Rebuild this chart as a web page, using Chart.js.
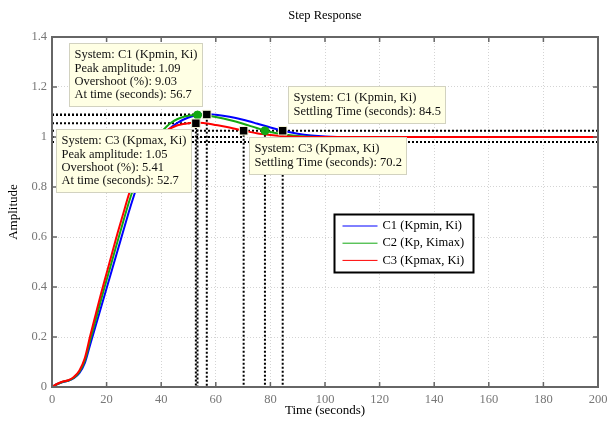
<!DOCTYPE html>
<html><head><meta charset="utf-8">
<script src="https://cdn.jsdelivr.net/npm/chart.js@4/dist/chart.umd.min.js"></script>
<style>html,body{margin:0;padding:0;background:#fff}#wrap{width:609px;height:423px}</style>
</head><body><div id="wrap"><canvas id="c" width="609" height="423"></canvas></div>
<script>
const chartTitle = 'Step Response';
const xTitle = 'Time (seconds)';
const yTitle = 'Amplitude';
const seriesNames = ['C1 (Kpmin, Ki)', 'C2 (Kp, Kimax)', 'C3 (Kpmax, Ki)'];

const timeS = [0,2,4,6,8,10,12,14,16,18,20,22,24,26,28,30,32,34,36,38,40,42,44,46,48,50,52,54,56,58,60,65,70,75,80,85,90,95,100,110,120,140,160,180,200];
const c1Amp = [0,0.012,0.02,0.025,0.035,0.055,0.095,0.17,0.245,0.32,0.395,0.47,0.545,0.62,0.695,0.765,0.83,0.885,0.93,0.967,0.998,1.022,1.042,1.057,1.069,1.078,1.085,1.089,1.091,1.091,1.089,1.081,1.069,1.054,1.038,1.024,1.013,1.006,1.002,1.0,1.0,1.0,1.0,1.0,1.0];
const c2Amp = [0,0.012,0.021,0.026,0.037,0.06,0.105,0.188,0.268,0.35,0.428,0.505,0.582,0.658,0.733,0.80,0.86,0.91,0.952,0.988,1.018,1.042,1.06,1.072,1.08,1.085,1.088,1.088,1.087,1.084,1.08,1.068,1.053,1.036,1.02,1.01,1.004,1.001,1.0,1.0,1.0,1.0,1.0,1.0,1.0];
const c3Amp = [0,0.013,0.022,0.027,0.04,0.065,0.115,0.205,0.29,0.375,0.455,0.535,0.615,0.69,0.765,0.83,0.885,0.93,0.965,0.99,1.01,1.026,1.038,1.047,1.052,1.055,1.057,1.057,1.055,1.052,1.048,1.038,1.026,1.015,1.008,1.003,1.001,1.0,1.0,1.0,1.0,1.0,1.0,1.0,1.0];

const peakTimes = [56.7, 53.3, 52.7];
const peakAmps = [1.09, 1.088, 1.055];
const settleTimes = [84.5, 78.0, 70.2];
const settleAmps = [1.025, 1.025, 1.025];
const bandLevels = [1.025, 0.98];
const steadyLevel = 1.0;

const xTicks = [0,20,40,60,80,100,120,140,160,180,200];
const yTicks = [0,0.2,0.4,0.6,0.8,1.0,1.2,1.4];
const yTickLabels = ['0','0.2','0.4','0.6','0.8','1','1.2','1.4'];

const peakTipLines = [
  ['System: C1 (Kpmin, Ki)','Peak amplitude: 1.09','Overshoot (%): 9.03','At time (seconds): 56.7'],
  null,
  ['System: C3 (Kpmax, Ki)','Peak amplitude: 1.05','Overshoot (%): 5.41','At time (seconds): 52.7']
];
const settleTipLines = [
  ['System: C1 (Kpmin, Ki)','Settling Time (seconds): 84.5'],
  null,
  ['System: C3 (Kpmax, Ki)','Settling Time (seconds): 70.2']
];

const COLORS = ['#0000ff', '#12a812', '#ff0000'];
const SERIF = '"Liberation Serif", "Times New Roman", serif';
const amps = [c1Amp, c2Amp, c3Amp];

const datasets = [];
amps.forEach((arr, i) => {
  datasets.push({
    label: seriesNames[i],
    data: timeS.map((t, k) => ({x: t, y: arr[k]})),
    borderColor: COLORS[i], borderWidth: 2, pointRadius: 0,
    cubicInterpolationMode: 'monotone', fill: false, order: 3 - i + 1
  });
});
const dotted = (pts) => ({
  data: pts, borderColor: '#000', borderWidth: 2, borderDash: [2, 2],
  pointRadius: 0, tension: 0, fill: false, order: 20
});
peakTimes.forEach((t, i) => {
  datasets.push(dotted([{x: 0, y: peakAmps[i]}, {x: t, y: peakAmps[i]}, {x: t, y: 0}]));
});
settleTimes.forEach((t, i) => {
  datasets.push(dotted([{x: t, y: settleAmps[i]}, {x: t, y: 0}]));
});
bandLevels.forEach(v => {
  datasets.push(dotted([{x: 0, y: v}, {x: 200, y: v}]));
});
datasets.push(dotted([{x: 0, y: steadyLevel}, {x: settleTimes[2], y: steadyLevel}]));
[0, 2].forEach(i => {
  datasets.push({
    data: [{x: peakTimes[i], y: peakAmps[i]}, {x: settleTimes[i], y: settleAmps[i]}],
    showLine: false, pointStyle: 'rect', pointRadius: 6,
    pointBackgroundColor: '#000', pointBorderColor: '#f4f4d8', pointBorderWidth: 1, order: 0
  });
});
datasets.push({
  data: [{x: peakTimes[1], y: peakAmps[1]}, {x: settleTimes[1], y: settleAmps[1]}],
  showLine: false, pointStyle: 'circle', pointRadius: 4,
  pointBackgroundColor: COLORS[1], pointBorderColor: COLORS[1], pointBorderWidth: 1, order: 0
});

function drawTip(ctx, px, py, lines, place) {
  ctx.save();
  ctx.font = '12.5px ' + SERIF;
  const lh = 13.3, padX = 5, padY = 5;
  let w = 0;
  lines.forEach(l => { w = Math.max(w, ctx.measureText(l).width); });
  const bw = Math.round(w + 2 * padX), bh = Math.round(lines.length * lh + 2 * padY);
  const gx = 5, gyUp = 8, gyDn = 6;
  let bx, by;
  if (place === 'ul') { bx = px - gx - bw; by = py - gyUp - bh; }
  else if (place === 'bl') { bx = px - gx - bw; by = py + gyDn; }
  else if (place === 'ur') { bx = px + gx; by = py - gyUp - bh; }
  else { bx = px + gx; by = py + gyDn; }
  bx = Math.round(bx) + 0.5; by = Math.round(by) + 0.5;
  ctx.fillStyle = '#ffffe4';
  ctx.strokeStyle = '#d2d2c0';
  ctx.lineWidth = 1;
  ctx.fillRect(bx, by, bw, bh);
  ctx.strokeRect(bx, by, bw, bh);
  ctx.fillStyle = '#111';
  ctx.textBaseline = 'middle';
  ctx.textAlign = 'left';
  lines.forEach((l, k) => ctx.fillText(l, bx + padX, by + padY + lh * (k + 0.5)));
  ctx.restore();
}

const overlay = {
  id: 'overlay',
  beforeDraw(chart) {
    const ctx = chart.ctx;
    ctx.save(); ctx.fillStyle = '#fff'; ctx.fillRect(0, 0, chart.width, chart.height); ctx.restore();
  },
  afterDraw(chart) {
    const {ctx, chartArea: a, scales: {x, y}} = chart;
    ctx.save();
    ctx.strokeStyle = '#666'; ctx.lineWidth = 1.5;
    ctx.beginPath();
    xTicks.forEach(v => {
      const px = x.getPixelForValue(v);
      ctx.moveTo(px, a.bottom); ctx.lineTo(px, a.bottom - 5);
      ctx.moveTo(px, a.top); ctx.lineTo(px, a.top + 5);
    });
    yTicks.forEach(v => {
      const py = y.getPixelForValue(v);
      ctx.moveTo(a.left, py); ctx.lineTo(a.left + 5, py);
      ctx.moveTo(a.right, py); ctx.lineTo(a.right - 5, py);
    });
    ctx.stroke();
    ctx.strokeStyle = '#666'; ctx.lineWidth = 2;
    ctx.strokeRect(a.left, a.top, a.right - a.left, a.bottom - a.top);
    ctx.fillStyle = '#000';
    ctx.textAlign = 'center'; ctx.textBaseline = 'middle';
    ctx.font = '12.5px ' + SERIF;
    const cx = (a.left + a.right) / 2;
    ctx.fillText(chartTitle, cx, 16);
    ctx.font = '13px ' + SERIF;
    ctx.fillText(xTitle, cx, 411);
    ctx.save();
    ctx.translate(14, (a.top + a.bottom) / 2);
    ctx.rotate(-Math.PI / 2);
    ctx.fillText(yTitle, 0, 0);
    ctx.restore();
    const P = (t, v) => [x.getPixelForValue(t), y.getPixelForValue(v)];
    let p = P(peakTimes[0], peakAmps[0]); drawTip(ctx, p[0], p[1], peakTipLines[0], 'ul');
    p = P(peakTimes[2], peakAmps[2]); drawTip(ctx, p[0], p[1], peakTipLines[2], 'bl');
    p = P(settleTimes[0], settleAmps[0]); drawTip(ctx, p[0], p[1], settleTipLines[0], 'ur');
    p = P(settleTimes[2], settleAmps[2]); drawTip(ctx, p[0], p[1], settleTipLines[2], 'br');
    const lx = 334.5, ly = 214.5, lw = 139, lhgt = 58;
    ctx.fillStyle = '#fff'; ctx.fillRect(lx, ly, lw, lhgt);
    ctx.strokeStyle = '#000'; ctx.lineWidth = 2; ctx.strokeRect(lx, ly, lw, lhgt);
    ctx.font = '12.5px ' + SERIF; ctx.textAlign = 'left'; ctx.textBaseline = 'middle';
    seriesNames.forEach((n, i) => {
      const yy = ly + 11.5 + i * 17.2;
      ctx.strokeStyle = COLORS[i]; ctx.lineWidth = 1;
      ctx.beginPath(); ctx.moveTo(lx + 8, yy); ctx.lineTo(lx + 43, yy); ctx.stroke();
      ctx.fillStyle = '#000';
      ctx.fillText(n, lx + 48, yy);
    });
    ctx.restore();
  }
};

new Chart(document.getElementById('c'), {
  type: 'line',
  data: {datasets},
  options: {
    responsive: false, animation: false, devicePixelRatio: 1,
    layout: {padding: {top: 37, right: 11, left: 0, bottom: 0}},
    plugins: {legend: {display: false}, tooltip: {enabled: false}, title: {display: false}},
    events: [],
    scales: {
      x: {
        type: 'linear', min: 0, max: 200,
        afterBuildTicks: s => { s.ticks = xTicks.map(v => ({value: v})); },
        afterFit: s => { s.height = 36; s.paddingLeft = 0; s.paddingRight = 0; },
        grid: {color: '#d4d4d4', lineWidth: 1, drawTicks: false},
        border: {display: false, dash: [1, 2]},
        ticks: {padding: 5, color: '#777', font: {family: SERIF, size: 12.5}, maxRotation: 0, autoSkip: false}
      },
      y: {
        type: 'linear', min: 0, max: 1.4,
        afterBuildTicks: s => { s.ticks = yTicks.map(v => ({value: v})); },
        afterFit: s => { s.width = 52; s.paddingTop = 0; s.paddingBottom = 0; },
        grid: {color: '#d4d4d4', lineWidth: 1, drawTicks: false},
        border: {display: false, dash: [1, 2]},
        ticks: {padding: 5, color: '#777', font: {family: SERIF, size: 12.5}, autoSkip: false,
          callback: (v, i) => yTickLabels[i]}
      }
    }
  },
  plugins: [overlay]
});
</script>
</body></html>
